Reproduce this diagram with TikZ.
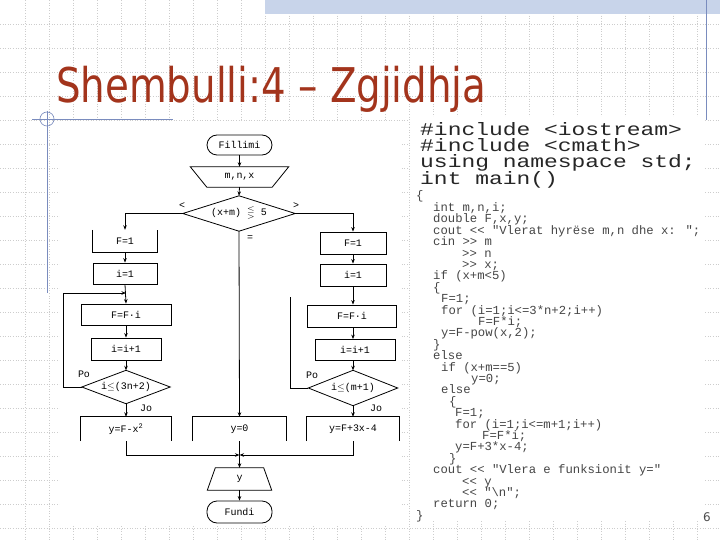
\documentclass[tikz,border=0pt]{standalone}
\usepackage{fontspec}
\usepackage{amssymb}
\usetikzlibrary{arrows.meta,calc}
\newfontfamily\titlefont{DejaVu Sans}
\newfontfamily\fcfont{Liberation Mono}
\newfontfamily\codefont{Liberation Mono}
\definecolor{titlered}{RGB}{163,52,28}
\definecolor{deco}{RGB}{122,140,190}
\definecolor{gridc}{RGB}{205,205,205}
\definecolor{strip}{RGB}{200,212,234}
\definecolor{codegrey}{RGB}{70,70,70}
\newcommand{\hdr}[1]{\scalebox{1.28}[1]{#1}}
\tikzset{
  fc/.style={font=\fcfont\fontsize{10}{12}\selectfont, inner sep=0pt},
  boxd/.style={fc, draw, line width=0.8bp},
  boxn/.style={fc},
  arr/.style={line width=0.8bp, -{Stealth[length=4.5bp,width=3.5bp]}},
  ln/.style={line width=0.8bp},
  lbl/.style={font=\fcfont\fontsize{10}{12}\selectfont, inner sep=0pt},
  codel/.style={font=\codefont\fontsize{12.3}{13}\selectfont, text=codegrey, anchor=base west, inner sep=0pt},
  codeh/.style={font=\codefont\fontsize{18}{16bp}\selectfont, text=black!85, anchor=base west, inner sep=0pt, align=left}
}
\begin{document}
\begin{tikzpicture}[x=1bp,y=-1bp]
\useasboundingbox (0,0) rectangle (720,540);
\fill[white] (0,0) rectangle (720,540);
% grid
\foreach \k in {1,...,29} \draw[gridc, dotted, line width=0.6bp] (1+24*\k,0) -- (1+24*\k,540);
\foreach \k in {1,...,22} \draw[gridc, dotted, line width=0.6bp] (0,24*\k) -- (720,24*\k);
% top strip and decorations
\fill[strip] (265,0) rectangle (720,14);
\draw[deco, line width=0.8bp] (706,0) -- (706,120);
\draw[deco, line width=0.8bp] (32,119) -- (173,119);
\draw[deco, line width=0.8bp] (47,111) -- (47,293);
\draw[deco, line width=0.6bp] (47,119) circle (7);
% title
\node[anchor=base west, inner sep=0pt, text=titlered] (title) at (56,103)
  {\scalebox{0.81}[1]{\titlefont\fontsize{48}{50}\selectfont Shembulli:4 – Zgjidhja}};
% image backgrounds
\fill[white] (60,122) rectangle (400,526);
\fill[white] (410,117) rectangle (705,521);

% ---------- flowchart ----------
\node[boxd, rounded corners=10bp, minimum width=65bp, minimum height=20bp] (start) at (239.5,145) {Fillimi};
\node[boxn, minimum width=65bp, minimum height=20bp] (inp) at (239.5,177) {m,n,x};
\draw[ln] ($(inp.north west)+(-16.5,0)$) -- ($(inp.north east)+(16.5,0)$) -- (inp.south east) -- (inp.south west) -- cycle;
\node[boxn, minimum width=112bp, minimum height=35bp] (d1) at (239,213.5) {(x+m) $\lesseqgtr$ 5};
\draw[ln] (d1.north) -- (d1.east) -- (d1.south) -- (d1.west) -- cycle;

% left column
\node[boxn, minimum width=64bp, minimum height=22bp] (lF1) at (125,241) {F=1};
\draw[ln] (lF1.north west) -- (lF1.south west) -- (lF1.south east) -- (lF1.north east);
\node[boxd, minimum width=64bp, minimum height=21bp] (li1) at (125,273.5) {i=1};
\node[boxd, minimum width=90bp, minimum height=21bp] (lFF) at (126,314.5) {F=F·i};
\node[boxd, minimum width=70bp, minimum height=22bp] (lii) at (126,349) {i=i+1};
\node[boxn, minimum width=88bp, minimum height=33bp] (ld) at (126,387) {i$\leq$(3n+2)};
\draw[ln] (ld.north) -- (ld.east) -- (ld.south) -- (ld.west) -- cycle;
\node[boxn, minimum width=90bp, minimum height=24bp] (ly) at (126,429) {y=F-x\textsuperscript{2}};
\draw[ln] (ly.south west) -- (ly.north west) -- (ly.north east) -- (ly.south east);

% middle
\node[boxn, minimum width=93bp, minimum height=24bp] (my) at (239.5,429) {y=0};
\draw[ln] (my.south west) -- (my.north west) -- (my.north east) -- (my.south east);

% right column
\node[boxd, minimum width=66bp, minimum height=22bp] (rF1) at (353,243) {F=1};
\node[boxd, minimum width=66bp, minimum height=22bp] (ri1) at (353,275) {i=1};
\node[boxd, minimum width=89bp, minimum height=22bp] (rFF) at (352,316) {F=F·i};
\node[boxd, minimum width=80bp, minimum height=21bp] (rii) at (355,350) {i=i+1};
\node[boxn, minimum width=89bp, minimum height=35bp] (rd) at (353,388) {i$\leq$(m+1)};
\draw[ln] (rd.north) -- (rd.east) -- (rd.south) -- (rd.west) -- cycle;
\node[boxn, minimum width=92bp, minimum height=24bp] (ry) at (353,429) {y=F+3x-4};
\draw[ln] (ry.south west) -- (ry.north west) -- (ry.north east) -- (ry.south east);

% merge and end
\coordinate (J) at (239.5,455);
\node[boxn, minimum width=48bp, minimum height=22bp] (out) at (239.5,479) {y};
\draw[ln] (out.north west) -- (out.north east) -- ($(out.south east)+(8,0)$) -- ($(out.south west)+(-8,0)$) -- cycle;
\node[boxd, rounded corners=10bp, minimum width=65bp, minimum height=22bp] (stop) at (239.5,512) {Fundi};

% connectors
\draw[arr] (start.south) -- (inp.north);
\draw[arr] (inp.south) -- (d1.north);
\draw[arr] (d1.west) -| (lF1.north);
\draw[arr] (d1.east) -| (rF1.north);
\draw[arr] (d1.south) -- (my.north);
\draw[arr] (lF1.south) -- (li1.north);
\draw[arr] (li1.south) -- (lFF.north);
\draw[arr] (lFF.south) -- (lii.north);
\draw[arr] (lii.south) -- (ld.north);
\draw[arr] (ld.south) -- (ly.north);
\coordinate (lcorner) at (63,293);
\coordinate (lj) at (126,293);
\draw[arr] (ld.west) -| (lcorner) -- (lj);
\draw[arr] (rF1.south) -- (ri1.north);
\draw[arr] (ri1.south) -- (ri1.south |- rFF.north);
\draw[arr] (rFF.south -| ri1.south) -- (ri1.south |- rii.north);
\draw[arr] (ri1.south |- rii.south) -- (rd.north);
\draw[arr] (rd.south) -- (ry.north);
\coordinate (rcorner) at (290,297);
\draw[ln] (rd.west) -| (rcorner);
\draw[arr] (ly.south) |- (J);
\draw[arr] (ry.south) |- (J);
\draw[ln] (my.south) -- (J);
\draw[arr] (J) -- (out.north);
\draw[arr] (out.south) -- (stop.north);

% labels
\node[lbl] (lt) at (182,206) {<};
\node[lbl] (gt) at (296,206) {>};
\node[lbl] (eq) at (250,238) {=};
\node[lbl] (po1) at (84,374) {Po};
\node[lbl] (jo1) at (146,408) {Jo};
\node[lbl] (po2) at (312,375) {Po};
\node[lbl] (jo2) at (376,408) {Jo};

% ---------- code ----------
\node[codeh] (hdrs) at (420,185) {\hdr{\#include <iostream>}\\\hdr{\#include <cmath>}\\\hdr{using namespace std;}\\\hdr{int main()}};
\node[codel] (c0) at (416,200) {\{};
\node[codel] (c1) at (433,211.5) {int m,n,i;};
\node[codel] (c2) at (433,222.9) {double F,x,y;};
\node[codel] (c3) at (433,234.3) {cout << "Vlerat hyrëse m,n dhe x: ";};
\node[codel] (c4) at (433,245.7) {cin >> m};
\node[codel] (c5) at (462,257.1) {>> n};
\node[codel] (c6) at (462,268.5) {>> x;};
\node[codel] (c7) at (433,279.9) {if (x+m<5)};
\node[codel] (c8) at (433,291.3) {\{};
\node[codel] (c9) at (441,302.7) {F=1;};
\node[codel] (c10) at (441,314.1) {for (i=1;i<=3*n+2;i++)};
\node[codel] (c11) at (478,325.5) {F=F*i;};
\node[codel] (c12) at (441,336.9) {y=F-pow(x,2);};
\node[codel] (c13) at (433,348.3) {\}};
\node[codel] (c14) at (433,359.7) {else};
\node[codel] (c15) at (441,371.1) {if (x+m==5)};
\node[codel] (c16) at (471,382.5) {y=0;};
\node[codel] (c17) at (441,393.9) {else};
\node[codel] (c18) at (449,405.3) {\{};
\node[codel] (c19) at (455,416.7) {F=1;};
\node[codel] (c20) at (455,428.1) {for (i=1;i<=m+1;i++)};
\node[codel] (c21) at (482,439.5) {F=F*i;};
\node[codel] (c22) at (455,450.9) {y=F+3*x-4;};
\node[codel] (c23) at (449,462.3) {\}};
\node[codel] (c24) at (433,473.7) {cout << "Vlera e funksionit y="};
\node[codel] (c25) at (462,485.1) {<< y};
\node[codel] (c26) at (462,496.5) {<< "\textbackslash n";};
\node[codel] (c27) at (433,507.9) {return 0;};
\node[codel] (c28) at (416,519.3) {\}};

% page number
\node[font=\titlefont\fontsize{12}{12}\selectfont, text=black!70, inner sep=0pt] (pg) at (707,517) {6};
\end{tikzpicture}
\end{document}
